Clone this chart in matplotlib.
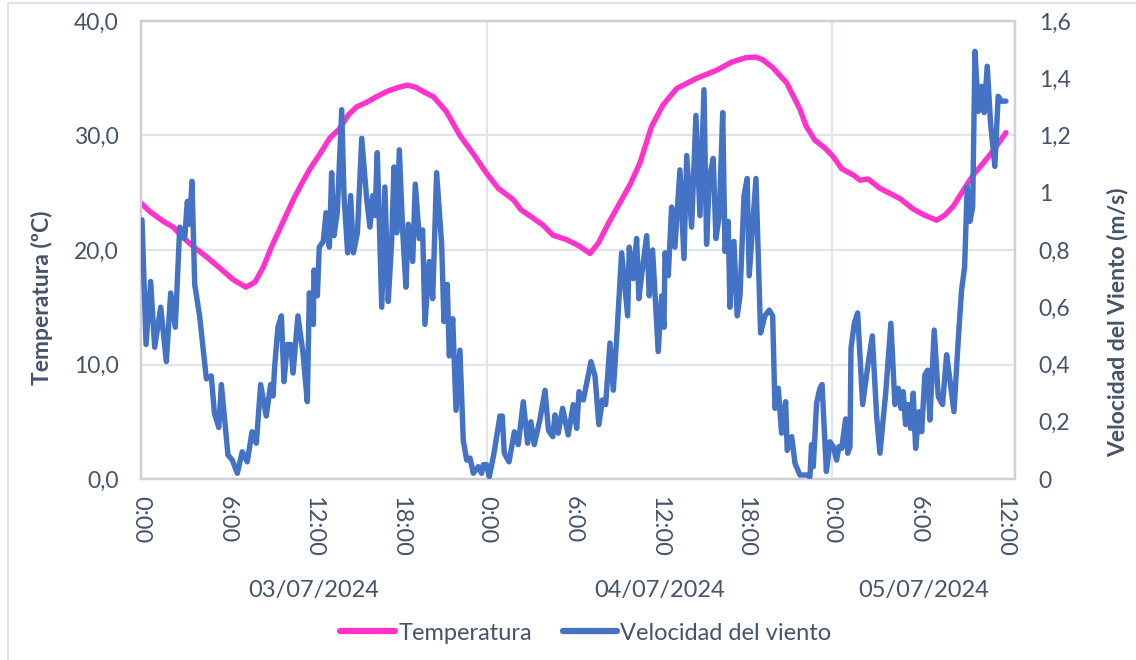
import matplotlib
matplotlib.use("Agg")
import matplotlib.pyplot as plt
from matplotlib.lines import Line2D
from matplotlib.transforms import blended_transform_factory

plt.rcParams['font.family'] = ['Lato', 'DejaVu Sans']

# hours since 03/07/2024 0:00
temp_hours = [0.0, 0.62, 1.55, 2.24, 2.83, 3.63, 4.56, 5.49, 6.41, 7.29, 7.92, 8.49,
              9.07, 9.88, 10.58, 11.16, 11.74, 12.43, 13.13, 13.8, 14.4, 14.98, 15.67,
              16.37, 17.17, 17.87, 18.5, 19.1, 19.8, 20.3, 21.2, 22.15, 23.08, 24.0,
              24.8, 25.85, 26.4, 27.1, 27.9, 28.6, 29.56, 30.37, 31.18, 31.76, 32.45,
              33.38, 34.0, 34.65, 35.46, 36.27, 37.2, 38.6, 39.98, 41.0, 42.0, 42.7,
              43.2, 43.9, 44.84, 45.76, 46.2, 46.8, 47.5, 48.08, 48.66, 49.47, 49.93,
              50.5, 51.3, 52.7, 53.6, 54.4, 55.26, 55.83, 56.4, 57.1, 57.8, 58.5,
              59.2, 60.07]
temperatura = [24.1, 23.35, 22.5, 22.0, 21.2, 20.3, 19.4, 18.4, 17.4, 16.75, 17.2, 18.5,
               20.3, 22.5, 24.4, 25.8, 27.1, 28.4, 29.8, 30.6, 31.8, 32.5, 32.9,
               33.4, 33.9, 34.2, 34.4, 34.2, 33.7, 33.4, 32.1, 30.0, 28.4, 26.7,
               25.4, 24.4, 23.5, 22.9, 22.2, 21.3, 20.9, 20.4, 19.7, 20.6, 22.3,
               24.4, 25.8, 27.6, 30.8, 32.7, 34.1, 35.0, 35.7, 36.4, 36.8, 36.85,
               36.6, 35.9, 34.6, 32.3, 30.8, 29.6, 28.9, 28.15, 27.1, 26.55, 26.1,
               26.2, 25.4, 24.5, 23.6, 23.05, 22.6, 23.05, 23.8, 25.2, 26.55, 27.6,
               28.7, 30.25]

wind_hours = [0.0, 0.07, 0.35, 0.67, 0.95, 1.37, 1.76, 2.06, 2.38, 2.69, 3.03, 3.22,
              3.38, 3.54, 3.73, 4.07, 4.54, 4.88, 5.1, 5.4, 5.58, 6.04, 6.34, 6.69,
              7.03, 7.38, 7.71, 8.01, 8.31, 8.7, 9.0, 9.17, 9.28, 9.51, 9.75, 9.93,
              10.16, 10.4, 10.56, 10.9, 11.25, 11.55, 11.69, 11.97, 12.01, 12.25, 12.38,
              12.66, 12.85, 13.08, 13.24, 13.4, 13.63, 13.94, 14.1, 14.35, 14.56, 14.75,
              15.03, 15.33, 15.67, 15.9, 16.09, 16.25, 16.41, 16.72, 16.94, 17.17, 17.41,
              17.57, 17.76, 17.94, 18.17, 18.4, 18.56, 18.87, 19.05, 19.33, 19.56, 19.72,
              20.02, 20.26, 20.53, 20.88, 21.04, 21.27, 21.41, 21.65, 21.88, 22.15, 22.38,
              22.62, 22.85, 23.08, 23.42, 23.66, 23.77, 24.0, 24.19, 24.47, 24.58, 24.93,
              25.09, 25.23, 25.56, 25.93, 26.2, 26.55, 26.85, 27.08, 27.31, 27.7, 28.06,
              28.3, 28.6, 28.75, 28.98, 29.28, 29.67, 30.02, 30.26, 30.42, 30.72, 31.25,
              31.53, 31.8, 32.04, 32.27, 32.57, 32.8, 33.03, 33.38, 33.8, 33.91, 34.19,
              34.42, 34.58, 34.81, 35.12, 35.3, 35.53, 35.92, 36.16, 36.32, 36.39, 36.62,
              36.85, 37.08, 37.43, 37.71, 37.9, 38.24, 38.54, 38.82, 39.1, 39.28, 39.47,
              39.74, 39.93, 40.16, 40.4, 40.56, 40.78, 40.9, 41.18, 41.41, 41.6, 41.88,
              42.1, 42.24, 42.71, 43.03, 43.33, 43.63, 43.87, 44.03, 44.26, 44.49, 44.77,
              44.88, 45.19, 45.42, 45.76, 46.23, 46.46, 46.57, 46.69, 46.92, 47.15, 47.3,
              47.6, 47.85, 48.08, 48.31, 48.47, 48.66, 48.94, 49.08, 49.24, 49.31, 49.54,
              49.77, 50.12, 50.47, 50.79, 51.09, 51.32, 51.72, 52.08, 52.36, 52.59, 52.78,
              52.94, 53.1, 53.29, 53.45, 53.63, 53.8, 54.03, 54.22, 54.44, 54.63, 54.79,
              55.09, 55.37, 55.67, 55.95, 56.18, 56.46, 56.76, 56.99, 57.2, 57.38, 57.57,
              57.76, 57.92, 58.15, 58.38, 58.56, 58.77, 59.0, 59.3, 59.53, 59.77, 60.07]
viento = [0.905, 0.905, 0.47, 0.69, 0.46, 0.6, 0.41, 0.65, 0.53, 0.88, 0.84, 0.97,
          0.89, 1.04, 0.68, 0.57, 0.35, 0.36, 0.23, 0.18, 0.33, 0.084, 0.066, 0.02,
          0.095, 0.06, 0.165, 0.125, 0.33, 0.22, 0.33, 0.29, 0.39, 0.53, 0.57, 0.34,
          0.47, 0.47, 0.37, 0.57, 0.44, 0.27, 0.65, 0.54, 0.73, 0.64, 0.81,
          0.83, 0.93, 0.81, 1.07, 0.85, 0.93, 1.29, 0.99, 0.79, 0.99, 0.79,
          0.86, 1.19, 0.98, 0.88, 0.99, 0.92, 1.14, 0.6, 1.02, 0.62, 0.83,
          1.09, 0.86, 1.15, 0.87, 0.67, 0.89, 0.76, 1.03, 0.84, 0.87, 0.54,
          0.76, 0.63, 1.07, 0.82, 0.55, 0.68, 0.43, 0.56, 0.24, 0.45, 0.136,
          0.066, 0.073, 0.02, 0.043, 0.02, 0.05, 0.05, 0.008, 0.078, 0.11, 0.22,
          0.22, 0.09, 0.06, 0.165, 0.12, 0.27, 0.125, 0.2, 0.12, 0.206, 0.31,
          0.17, 0.148, 0.224, 0.16, 0.247, 0.154, 0.26, 0.177, 0.305, 0.276, 0.41,
          0.36, 0.19, 0.276, 0.26, 0.475, 0.31, 0.486, 0.79, 0.57, 0.81, 0.7,
          0.84, 0.63, 0.73, 0.85, 0.64, 0.8, 0.445, 0.64, 0.53, 0.79, 0.71,
          0.95, 0.81, 1.08, 0.77, 1.13, 0.88, 1.27, 0.92, 1.36, 0.82, 1.05,
          1.12, 0.84, 0.92, 1.28, 0.795, 0.9, 0.6, 0.83, 0.57, 0.64, 0.99,
          1.05, 0.71, 1.05, 0.51, 0.57, 0.59, 0.57, 0.247, 0.317, 0.16, 0.27,
          0.1, 0.148, 0.055, 0.014, 0.014, 0.008, 0.12, 0.043, 0.265, 0.317, 0.33,
          0.026, 0.13, 0.113, 0.066, 0.113, 0.107, 0.21, 0.09, 0.113, 0.457, 0.544,
          0.58, 0.26, 0.393, 0.5, 0.22, 0.09, 0.3, 0.544, 0.26, 0.317, 0.247,
          0.305, 0.19, 0.26, 0.177, 0.3, 0.107, 0.235, 0.165, 0.364, 0.38, 0.206,
          0.52, 0.288, 0.26, 0.434, 0.346, 0.235, 0.486, 0.66, 0.74, 1.02, 0.9,
          0.95, 1.494, 1.284, 1.372, 1.28, 1.442, 1.244, 1.092, 1.337, 1.32, 1.32]

x_ticks = [0, 6, 12, 18, 24, 30, 36, 42, 48, 54, 60]
x_tick_labels = ['0:00', '6:00', '12:00', '18:00', '0:00', '6:00', '12:00', '18:00',
                 '0:00', '6:00', '12:00']
dias = ['03/07/2024', '04/07/2024', '05/07/2024']
dia_centros = [12, 36, 54.35]

temp_ticks = [0, 10, 20, 30, 40]
wind_ticks = [0, 0.2, 0.4, 0.6, 0.8, 1.0, 1.2, 1.4, 1.6]
wind_tick_labels = ['0', '0,2', '0,4', '0,6', '0,8', '1', '1,2', '1,4', '1,6']

TXT = '#44546A'
GRID = '#E1E5EB'
PINK = '#FF33CC'
BLUE = '#4472C4'
W, H = 1136, 660

fig = plt.figure(figsize=(W / 100, H / 100), dpi=100)
ax = fig.add_axes([141 / W, 1 - 479 / H, (1015 - 141) / W, (479 - 21) / H])
ax2 = ax.twinx()

ax.plot(temp_hours, temperatura, color=PINK, lw=3.9, solid_capstyle='round',
        solid_joinstyle='round', zorder=3)
ax2.plot(wind_hours, viento, color=BLUE, lw=3.9, solid_capstyle='round',
         solid_joinstyle='round', zorder=3)

ax.set_xlim(0, 60.7)
ax.set_ylim(0, 40)
ax2.set_ylim(0, 1.6)

ax.set_yticks(temp_ticks)
ax.set_yticklabels([f'{v:.1f}'.replace('.', ',') for v in temp_ticks])
ax2.set_yticks(wind_ticks)
ax2.set_yticklabels(wind_tick_labels)
ax.set_xticks(x_ticks)
ax.set_xticklabels(x_tick_labels, rotation=-90)

ax.yaxis.grid(True, color=GRID, lw=1.6)
ax.set_axisbelow(True)
for d in [24, 48]:
    ax.axvline(d, color=GRID, lw=1.6, zorder=0)

for a in (ax, ax2):
    a.tick_params(length=0, labelsize=16.5, colors=TXT)
    for s in a.spines.values():
        s.set_color('#D0D0D0')
        s.set_linewidth(1.6)
ax.tick_params(axis='y', pad=16)
ax2.tick_params(axis='y', pad=17)
ax.tick_params(axis='x', pad=12, labelsize=17)

# axis titles placed where the reference has them
fig.text(42 / W, 1 - 298 / H, 'Temperatura (ºC)', rotation=90, ha='center', va='center',
         fontsize=16.5, fontweight='bold', color=TXT)
fig.text(1118 / W, 1 - 322 / H, 'Velocidad del Viento (m/s)', rotation=90, ha='center',
         va='center', fontsize=16.5, fontweight='bold', color=TXT)

trans = blended_transform_factory(ax.transData, ax.transAxes)
for c, d in zip(dia_centros, dias):
    ax.text(c, -0.243, d, transform=trans, ha='center', va='center', fontsize=17, color=TXT)

handles = [Line2D([], [], color=PINK, lw=4.5, solid_capstyle='round'),
           Line2D([], [], color=BLUE, lw=4.5, solid_capstyle='round')]
fig.legend(handles, ['Temperatura', 'Velocidad del viento'], loc='center',
           bbox_to_anchor=(586 / W, 1 - 633 / H), ncol=2, frameon=False, fontsize=17,
           labelcolor=TXT, handlelength=2.3, handletextpad=0.15, columnspacing=1.3)

# outer chart border (left and top edges visible)
fig.add_artist(Line2D([7.5 / W, 7.5 / W], [0, 1 - 2.5 / H],
                      transform=fig.transFigure, color='#DEE3E9', lw=1.5))
fig.add_artist(Line2D([7.5 / W, 1], [1 - 2.5 / H, 1 - 2.5 / H],
                      transform=fig.transFigure, color='#DEE3E9', lw=1.5))

fig.savefig('out.png', dpi=100, facecolor='white')
